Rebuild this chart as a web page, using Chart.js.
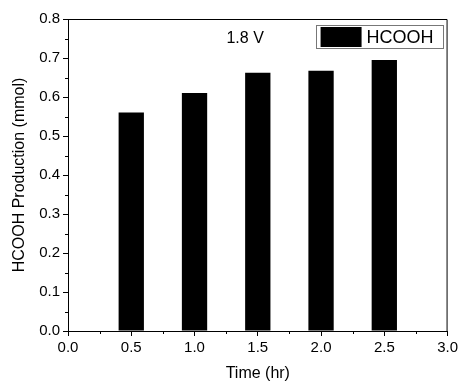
<!DOCTYPE html>
<html>
<head>
<meta charset="utf-8">
<script src="https://cdn.jsdelivr.net/npm/chart.js@4.4.1/dist/chart.umd.min.js"></script>
<style>
  html, body { margin: 0; padding: 0; background: #fff; }
  #wrap { width: 461px; height: 381px; }
</style>
</head>
<body>
<div id="wrap"><canvas id="chart"></canvas></div>
<script>
// Data
const times = [0.5, 1.0, 1.5, 2.0, 2.5];           // hr
const hcooh = [0.56, 0.61, 0.662, 0.667, 0.695];   // mmol
const seriesLabel = 'HCOOH';
const noteText = '1.8 V';
const notePos = { x: 1.4, y: 0.75 };

const FONT = '"Liberation Sans", Arial, sans-serif';

// minor ticks between major ones (outward, shorter)
const minorTicks = {
    id: 'minorTicks',
    afterDraw(chart) {
        const ctx = chart.ctx;
        const xs = chart.scales.x, ys = chart.scales.y;
        const area = chart.chartArea;
        ctx.save();
        ctx.strokeStyle = '#000';
        ctx.lineWidth = 1;
        ctx.beginPath();
        for (let v = 0.25; v < 3; v += 0.5) {
            const px = Math.round(xs.getPixelForValue(v)) + 0.5;
            ctx.moveTo(px, area.bottom);
            ctx.lineTo(px, area.bottom + 3);
        }
        for (let v = 0.05; v < 0.8; v += 0.1) {
            const py = Math.round(ys.getPixelForValue(v)) + 0.5;
            ctx.moveTo(area.left, py);
            ctx.lineTo(area.left - 3, py);
        }
        ctx.stroke();
        ctx.restore();
    }
};

// top/right frame, boxed legend in the corner and the voltage note
const frameAndNote = {
    id: 'frameAndNote',
    afterDraw(chart) {
        const ctx = chart.ctx;
        const a = chart.chartArea;
        ctx.save();
        ctx.strokeStyle = '#000';
        ctx.lineWidth = 1;
        ctx.beginPath();
        ctx.moveTo(a.left, a.top + 0.5);
        ctx.lineTo(a.right - 0.5, a.top + 0.5);
        ctx.lineTo(a.right - 0.5, a.bottom);
        ctx.stroke();

        // legend
        const ds = chart.data.datasets[0];
        ctx.font = '18px ' + FONT;
        const tw = ctx.measureText(ds.label).width;
        const textRight = a.right - 14;
        const textLeft = textRight - tw;
        const swR = textLeft - 5, swL = swR - 41;
        const top = a.top + 8, h = 20;
        ctx.fillStyle = ds.backgroundColor;
        ctx.fillRect(swL, top, 41, h);
        ctx.fillStyle = '#000';
        ctx.textAlign = 'left';
        ctx.textBaseline = 'middle';
        ctx.fillText(ds.label, textLeft, top + h / 2 + 1);
        ctx.strokeStyle = '#777';
        ctx.strokeRect(Math.round(swL - 5) + 0.5, Math.round(top - 2) + 0.5,
            Math.round(a.right - 5 - (swL - 5)), h + 3);

        // note
        ctx.font = '16px ' + FONT;
        ctx.textAlign = 'center';
        ctx.fillText(noteText, chart.scales.x.getPixelForValue(notePos.x),
            chart.scales.y.getPixelForValue(notePos.y));
        ctx.restore();
    }
};

new Chart(document.getElementById('chart'), {
    type: 'bar',
    data: {
        datasets: [{
            label: seriesLabel,
            data: times.map((t, i) => ({ x: t, y: hcooh[i] })),
            backgroundColor: '#000',
            borderWidth: 0,
            barPercentage: 0.4,
            categoryPercentage: 1
        }]
    },
    options: {
        responsive: true,
        maintainAspectRatio: false,
        animation: false,
        layout: { padding: { left: 0, right: 12, top: 19, bottom: 0 } },
        plugins: {
            legend: { display: false },
            tooltip: { enabled: false }
        },
        scales: {
            x: {
                type: 'linear',
                min: 0,
                max: 3,
                offset: false,
                grid: { display: true, offset: false, drawOnChartArea: false, tickLength: 5, tickColor: '#000' },
                border: { color: '#000', width: 1 },
                ticks: {
                    stepSize: 0.5,
                    color: '#000',
                    padding: 3,
                    maxRotation: 0,
                    font: { family: FONT, size: 15 },
                    callback: v => v.toFixed(1)
                },
                title: {
                    display: true,
                    text: 'Time (hr)',
                    color: '#000',
                    font: { family: FONT, size: 16 },
                    padding: { top: 0, bottom: -2 }
                },
                afterFit: s => { s.height = 50; }
            },
            y: {
                min: 0,
                max: 0.8,
                grid: { display: true, drawOnChartArea: false, tickLength: 5, tickColor: '#000' },
                border: { color: '#000', width: 1 },
                ticks: {
                    stepSize: 0.1,
                    color: '#000',
                    padding: 3,
                    font: { family: FONT, size: 15 },
                    callback: v => v.toFixed(1)
                },
                title: {
                    display: true,
                    text: 'HCOOH Production (mmol)',
                    color: '#000',
                    font: { family: FONT, size: 16 },
                    padding: { top: 10, bottom: 0 }
                },
                afterFit: s => { s.width = 68; }
            }
        }
    },
    plugins: [minorTicks, frameAndNote]
});
</script>
</body>
</html>
